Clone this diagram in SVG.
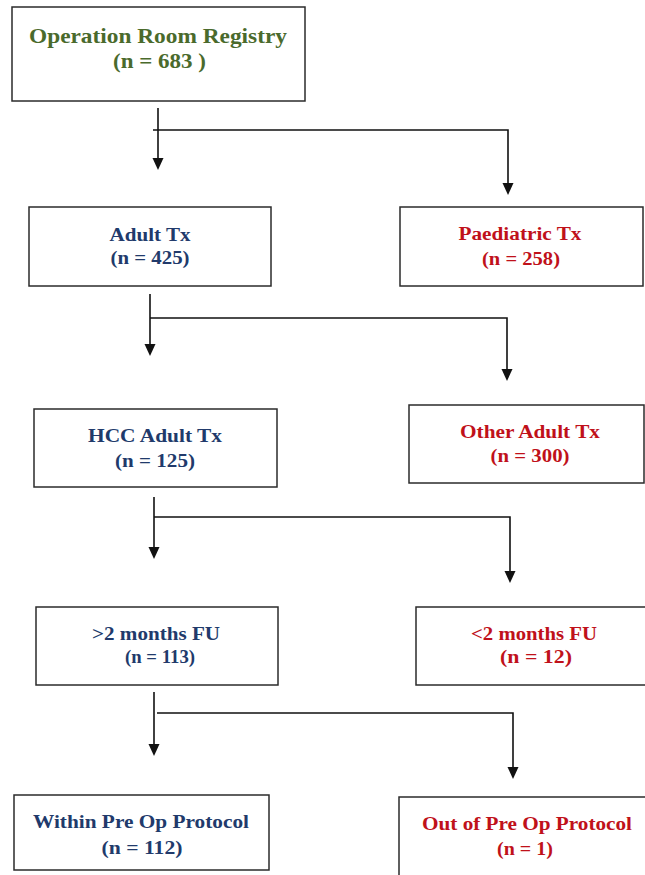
<svg xmlns="http://www.w3.org/2000/svg" width="645" height="875" viewBox="0 0 645 875">
  <style>
    .box { fill: #ffffff; stroke: #2b2b2b; stroke-width: 1.5; }
    .t { font-family: "Liberation Serif", "Times New Roman", serif; font-weight: bold; font-size: 18px; text-anchor: middle; }
    .green { fill: #4a6a2c; font-size: 21px; }
    .blue { fill: #213a6b; }
    .red { fill: #c0111a; }
    .conn { fill: none; stroke: #111111; stroke-width: 1.6; }
  </style>
  <defs>
    <marker id="arr" markerUnits="userSpaceOnUse" markerWidth="12" markerHeight="12" viewBox="0 0 12 12" refX="6" refY="11" orient="auto-start-reverse">
      <path d="M1,0 L11,0 L6,11 Z" fill="#111111" transform="rotate(-90 6 6)"/>
    </marker>
  </defs>
  <rect width="645" height="875" fill="#ffffff"/>

  <g id="connectors">
    <path class="conn" d="M158,108 V158"/>
    <path d="M152.5,158 L163.5,158 L158,170 Z" fill="#111"/>
    <path class="conn" d="M153,130 H508 V183"/>
    <path d="M502.5,183 L513.5,183 L508,195 Z" fill="#111"/>

    <path class="conn" d="M150,294 V344"/>
    <path d="M144.5,344 L155.5,344 L150,356 Z" fill="#111"/>
    <path class="conn" d="M150,318 H507 V369"/>
    <path d="M501.5,369 L512.5,369 L507,381 Z" fill="#111"/>

    <path class="conn" d="M154,497 V547"/>
    <path d="M148.5,547 L159.5,547 L154,559 Z" fill="#111"/>
    <path class="conn" d="M154,517 H510 V571"/>
    <path d="M504.5,571 L515.5,571 L510,583 Z" fill="#111"/>

    <path class="conn" d="M154,692 V744"/>
    <path d="M148.5,744 L159.5,744 L154,756 Z" fill="#111"/>
    <path class="conn" d="M157,713 H513 V767"/>
    <path d="M507.5,767 L518.5,767 L513,779 Z" fill="#111"/>
  </g>

  <g id="registry">
    <rect class="box" x="12" y="7" width="293" height="94"/>
    <text class="t green" x="158" y="43" textLength="258" lengthAdjust="spacingAndGlyphs">Operation Room Registry</text>
    <text class="t green" x="159.5" y="68" textLength="93" lengthAdjust="spacingAndGlyphs">(n = 683 )</text>
  </g>

  <g id="adult">
    <rect class="box" x="29" y="207" width="242" height="79"/>
    <text class="t blue" x="150" y="241" textLength="81" lengthAdjust="spacingAndGlyphs">Adult Tx</text>
    <text class="t blue" x="150" y="264" textLength="79" lengthAdjust="spacingAndGlyphs">(n = 425)</text>
  </g>

  <g id="paediatric">
    <rect class="box" x="400" y="207" width="243" height="79"/>
    <text class="t red" x="520" y="240" textLength="123" lengthAdjust="spacingAndGlyphs">Paediatric Tx</text>
    <text class="t red" x="521" y="265" textLength="78" lengthAdjust="spacingAndGlyphs">(n = 258)</text>
  </g>

  <g id="hcc">
    <rect class="box" x="34" y="409" width="243" height="78"/>
    <text class="t blue" x="155" y="442" textLength="134" lengthAdjust="spacingAndGlyphs">HCC Adult Tx</text>
    <text class="t blue" x="155" y="467" textLength="80" lengthAdjust="spacingAndGlyphs">(n = 125)</text>
  </g>

  <g id="other">
    <rect class="box" x="409" y="405" width="235" height="78"/>
    <text class="t red" x="530" y="438" textLength="140" lengthAdjust="spacingAndGlyphs">Other Adult Tx</text>
    <text class="t red" x="530" y="462" textLength="79" lengthAdjust="spacingAndGlyphs">(n = 300)</text>
  </g>

  <g id="fu-over">
    <rect class="box" x="36" y="607" width="242" height="78"/>
    <text class="t blue" x="156" y="640" textLength="128" lengthAdjust="spacingAndGlyphs">&gt;2 months FU</text>
    <text class="t blue" x="160" y="663" textLength="70" lengthAdjust="spacingAndGlyphs">(n = 113)</text>
  </g>

  <g id="fu-under">
    <rect class="box" x="416" y="607" width="232" height="78"/>
    <text class="t red" x="534" y="640" textLength="126" lengthAdjust="spacingAndGlyphs">&lt;2 months FU</text>
    <text class="t red" x="536" y="663" textLength="72" lengthAdjust="spacingAndGlyphs">(n = 12)</text>
  </g>

  <g id="within">
    <rect class="box" x="14" y="795" width="255" height="75"/>
    <text class="t blue" x="141" y="828" textLength="216" lengthAdjust="spacingAndGlyphs">Within Pre Op Protocol</text>
    <text class="t blue" x="142" y="854" textLength="81" lengthAdjust="spacingAndGlyphs">(n = 112)</text>
  </g>

  <g id="out">
    <rect class="box" x="399" y="797" width="250" height="90"/>
    <text class="t red" x="527" y="830" textLength="210" lengthAdjust="spacingAndGlyphs">Out of Pre Op Protocol</text>
    <text class="t red" x="525" y="855" textLength="56" lengthAdjust="spacingAndGlyphs">(n = 1)</text>
  </g>
</svg>
